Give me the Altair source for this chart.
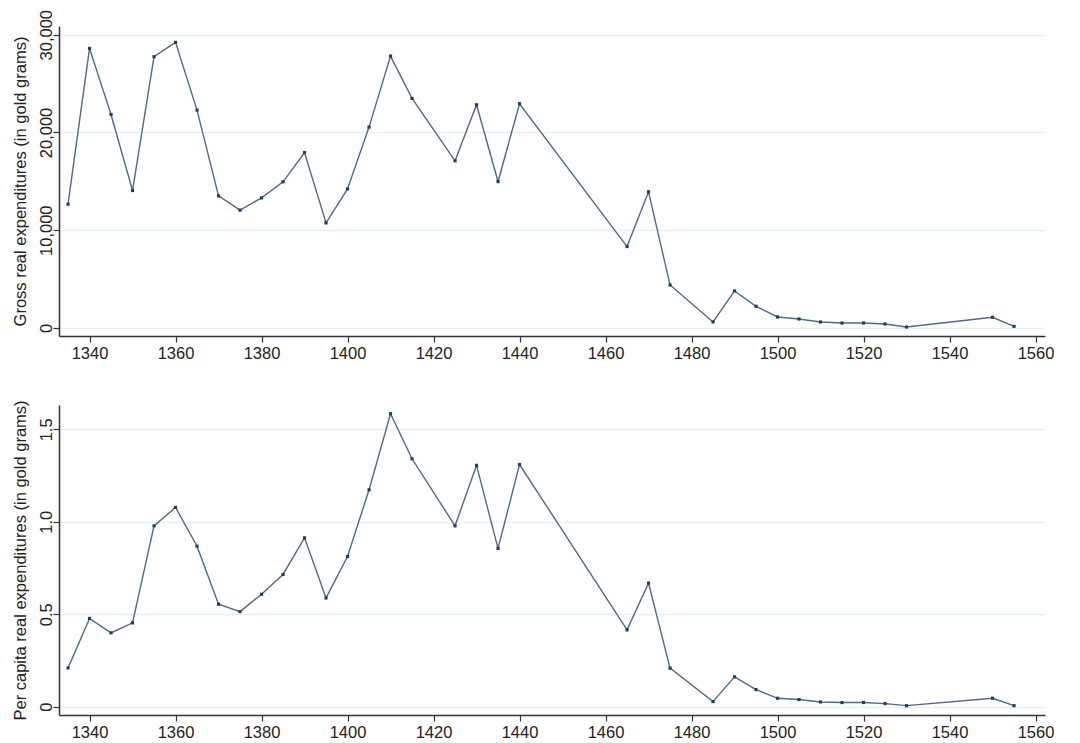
import altair as alt
import pandas as pd

years = [1335, 1340, 1345, 1350, 1355, 1360, 1365, 1370, 1375, 1380, 1385, 1390,
         1395, 1400, 1405, 1410, 1415, 1425, 1430, 1435, 1440, 1465, 1470, 1475,
         1485, 1490, 1495, 1500, 1505, 1510, 1515, 1520, 1525, 1530, 1550, 1555]

gross = [12660, 28600, 21840, 14060, 27750, 29215, 22290, 13515, 12050, 13310, 14950, 17950,
         10750, 14230, 20550, 27815, 23480, 17100, 22830, 14980, 22935, 8330, 13925, 4400,
         615, 3790, 2220, 1125, 920, 615, 510, 510, 410, 100, 1090, 170]

per_capita = [0.209, 0.477, 0.399, 0.453, 0.978, 1.078, 0.868, 0.554, 0.514, 0.608, 0.715, 0.913,
              0.588, 0.812, 1.173, 1.585, 1.341, 0.978, 1.305, 0.856, 1.310, 0.415, 0.668, 0.208,
              0.027, 0.161, 0.092, 0.045, 0.038, 0.025, 0.022, 0.022, 0.016, 0.005, 0.045, 0.005]

x_ticks = [1340, 1360, 1380, 1400, 1420, 1440, 1460, 1480, 1500, 1520, 1540, 1560]
gross_ticks = [0, 10000, 20000, 30000]
pc_ticks = [0, 0.5, 1.0, 1.5]

df = pd.DataFrame({"year": years, "gross": gross, "pc": per_capita})

FONT = "Liberation Sans"
LINE = "#4f6986"
MARK = "#1a3f66"


def panel(field, title, domain, ticks, label_expr):
    x = alt.X("year:Q",
              scale=alt.Scale(domain=[1332.9, 1562.2], nice=False, zero=False),
              axis=alt.Axis(values=x_ticks, format="d", title=None, grid=False))
    y = alt.Y(f"{field}:Q",
              scale=alt.Scale(domain=domain, nice=False, zero=False),
              axis=alt.Axis(values=ticks, labelExpr=label_expr, title=title, grid=True,
                            labelAngle=-90, labelAlign="center", labelBaseline="alphabetic"))
    base = alt.Chart(df).encode(x=x, y=y)
    line = base.mark_line(color=LINE, strokeWidth=1.4, clip=True)
    pts = base.mark_point(shape="square", filled=True, size=10, color=MARK, opacity=1, clip=True)
    return (line + pts).properties(width=986, height=310)


top = panel("gross", "Gross real expenditures (in gold grams)", [-820, 30890], gross_ticks,
            "format(datum.value, ',d')")
bottom = panel("pc", "Per capita real expenditures (in gold grams)", [-0.0455, 1.632], pc_ticks,
               "datum.value == 0 ? '0' : format(datum.value, '.1f')")

chart = alt.vconcat(top, bottom, spacing=37).properties(
    padding={"left": 3, "top": 1, "right": 0, "bottom": 0}, background="white"
).configure_view(
    stroke=None
).configure_axis(
    labelFont=FONT, titleFont=FONT, labelFontSize=16.5, titleFontSize=16.5,
    labelColor="#222222", titleColor="#222222", titleFontWeight="normal",
    domainColor="#333333", domainWidth=1.5, tickColor="#333333", tickSize=6, tickWidth=1.2,
    gridColor="#e8f1f3", gridWidth=1.5, labelPadding=2, titlePadding=10
).configure_axisX(labelPadding=3)

chart.save("out.html", embed_options={"renderer": "svg", "actions": False})
